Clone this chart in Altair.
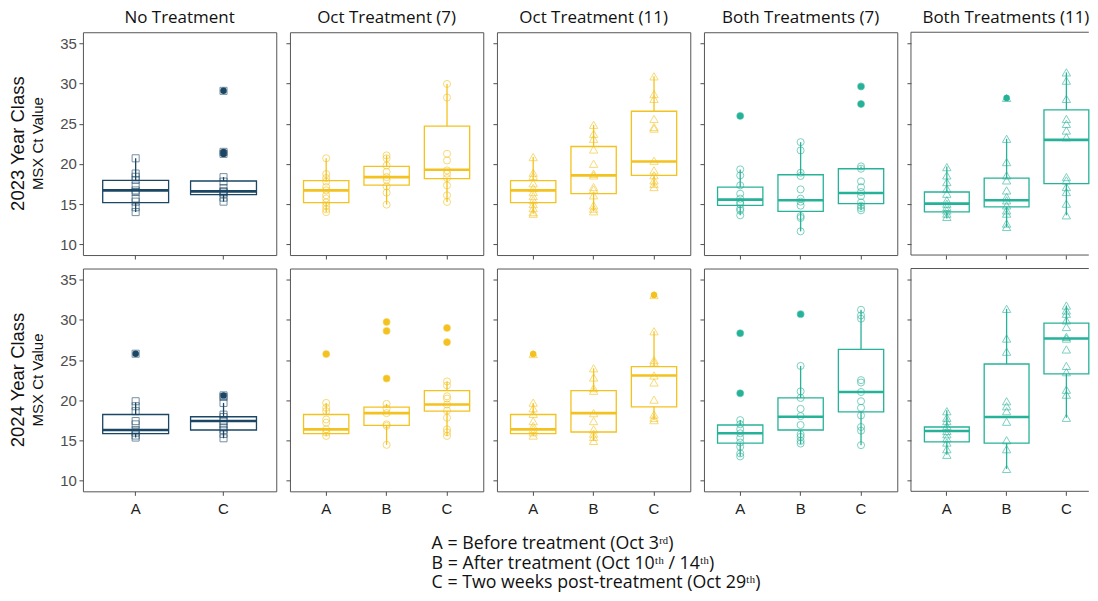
import altair as alt
import pandas as pd

# ---------------- data ----------------
PANELS = ["No Treatment", "Oct Treatment (7)", "Oct Treatment (11)",
          "Both Treatments (7)", "Both Treatments (11)"]
PANEL_GROUPS = [["A", "C"], ["A", "B", "C"], ["A", "B", "C"], ["A", "B", "C"], ["A", "B", "C"]]
PANEL_COLORS = ["#1b4664", "#f4c21e", "#f4c21e", "#26b298", "#26b298"]
PANEL_SHAPES = ["square", "circle", "triangle-up", "circle", "triangle-up"]
ROW_LABELS = ["2023 Year Class", "2024 Year Class"]
Y_LABEL = "MSX Ct Value"
Y_TICKS = [10, 15, 20, 25, 30, 35]
FOOTNOTE = ["A = Before treatment (Oct 3\u02b3\u1d48)",
            "B = After treatment (Oct 10\u1d57\u02b0 / 14\u1d57\u02b0)",
            "C = Two weeks post-treatment (Oct 29\u1d57\u02b0)"]

# box statistics (panel index, group) in this order
BOX_PANEL = [0, 0, 1, 1, 1, 2, 2, 2, 3, 3, 3, 4, 4, 4]
BOX_GROUP = ["A", "C", "A", "B", "C", "A", "B", "C", "A", "B", "C", "A", "B", "C"]

Q1_2023 = [15.18, 16.17, 15.18, 17.37, 18.16, 15.18, 16.29, 18.57, 14.84, 14.10, 15.05, 14.02, 14.64, 17.54]
MED_2023 = [16.70, 16.58, 16.71, 18.36, 19.28, 16.71, 18.57, 20.31, 15.55, 15.47, 16.38, 15.05, 15.47, 23.00]
Q3_2023 = [17.95, 17.87, 17.91, 19.69, 24.70, 17.91, 22.17, 26.56, 17.12, 18.65, 19.40, 16.50, 18.24, 26.73]
LO_2023 = [14.00, 15.30, 14.00, 14.93, 15.26, 13.80, 14.10, 17.12, 13.60, 11.60, 14.22, 13.19, 12.15, 13.60]
HI_2023 = [20.70, 18.36, 20.72, 21.06, 29.96, 20.85, 24.87, 30.91, 19.32, 22.71, 19.69, 19.69, 23.13, 31.40]

Q1_2024 = [15.84, 16.29, 15.84, 16.87, 18.63, 15.84, 16.04, 19.17, 14.65, 16.29, 18.55, 14.81, 14.65, 23.28]
MED_2024 = [16.29, 17.40, 16.37, 18.39, 19.46, 16.37, 18.39, 23.08, 15.88, 17.94, 21.02, 16.17, 17.90, 27.68]
Q3_2024 = [18.22, 17.94, 18.22, 19.13, 21.18, 18.22, 21.18, 24.19, 16.91, 20.28, 26.32, 16.66, 24.51, 29.61]
LO_2024 = [15.35, 15.26, 15.55, 14.44, 15.55, 15.55, 14.93, 17.52, 13.00, 14.52, 14.40, 13.20, 11.44, 17.81]
HI_2024 = [19.70, 19.66, 19.66, 19.54, 22.34, 19.66, 23.98, 28.59, 17.52, 24.27, 31.26, 18.76, 31.38, 31.79]

# individual observations, 2023 year class
P23_NT_A = [20.7, 18.8, 18.4, 18.0, 17.3, 16.7, 16.5, 15.7, 15.3, 14.6, 14.0]
P23_NT_C = [29.1, 21.5, 21.25, 18.35, 17.8, 17.0, 16.6, 16.5, 16.3, 15.8, 15.3]
P23_O7_A = [20.7, 18.74, 18.24, 17.8, 17.12, 16.71, 16.09, 15.7, 15.2, 14.76, 14.35, 14.0]
P23_O7_B = [21.06, 20.7, 19.8, 19.0, 18.36, 18.0, 17.2, 16.42, 14.93]
P23_O7_C = [29.96, 28.26, 21.26, 20.43, 19.19, 18.78, 18.24, 17.33, 16.09, 15.26]
P23_O11_A = [20.85, 18.9, 18.5, 17.6, 17.0, 16.5, 16.0, 15.5, 15.0, 14.5, 14.0, 13.8]
P23_O11_B = [24.87, 23.75, 23.13, 21.8, 20.02, 18.78, 18.57, 17.12, 16.83, 16.09, 14.84, 14.43, 14.1]
P23_O11_C = [30.91, 28.7, 28.1, 25.6, 24.6, 24.4, 20.4, 19.2, 18.6, 17.95, 17.5, 17.12]
P23_B7_A = [25.98, 19.32, 18.57, 17.33, 16.29, 15.67, 15.26, 15.0, 14.43, 14.2, 13.6]
P23_B7_B = [22.71, 21.68, 18.9, 18.5, 16.83, 15.67, 15.3, 14.8, 13.5, 13.27, 11.6]
P23_B7_C = [29.65, 27.46, 19.69, 19.4, 17.83, 17.1, 16.5, 16.0, 15.2, 14.8, 14.5, 14.22]
P23_B11_A = [19.6, 18.57, 17.74, 16.91, 16.29, 15.47, 15.05, 14.64, 14.22, 13.81, 13.4]
P23_B11_B = [28.22, 23.13, 20.23, 18.57, 17.95, 16.7, 15.88, 15.47, 14.84, 14.22, 13.81, 12.57, 12.15]
P23_B11_C = [31.4, 30.37, 28.1, 25.6, 24.99, 24.16, 23.33, 18.36, 17.95, 17.12, 16.5, 15.05, 13.6]

# individual observations, 2024 year class
P24_NT_A = [25.79, 19.87, 19.25, 18.63, 17.4, 16.99, 16.29, 15.96, 15.6, 15.35]
P24_NT_C = [20.6, 20.4, 19.66, 18.2, 17.9, 17.4, 17.0, 16.6, 16.3, 15.8, 15.26]
P24_O7_A = [25.75, 19.66, 19.05, 18.63, 17.6, 17.2, 16.37, 15.96, 15.55]
P24_O7_B = [29.74, 28.63, 22.7, 19.54, 18.96, 18.39, 16.99, 16.8, 14.44]
P24_O7_C = [29.0, 27.23, 22.34, 21.84, 20.49, 20.2, 19.46, 18.7, 17.81, 16.37, 16.0, 15.55]
P24_O11_A = [25.75, 19.7, 19.0, 18.3, 17.4, 16.8, 16.4, 16.0, 15.6]
P24_O11_B = [23.98, 22.83, 21.51, 21.18, 18.39, 17.4, 16.37, 15.84, 15.43, 14.93]
P24_O11_C = [33.1, 28.59, 25.0, 24.72, 23.08, 22.21, 20.07, 18.22, 17.81, 17.52]
P24_B7_A = [28.34, 20.86, 17.52, 17.0, 16.4, 15.88, 15.3, 14.73, 14.19, 13.37, 13.0]
P24_B7_B = [30.72, 24.27, 21.1, 20.28, 18.92, 18.02, 16.91, 15.76, 15.43, 14.93, 14.6]
P24_B7_C = [31.26, 30.56, 30.15, 22.5, 22.2, 21.02, 19.87, 19.05, 18.1, 16.66, 16.2, 14.4]
P24_B11_A = [18.63, 17.81, 17.4, 16.78, 16.17, 15.76, 15.26, 14.73, 13.9, 13.2]
P24_B11_B = [31.38, 27.68, 26.04, 19.87, 19.25, 18.63, 17.32, 15.02, 13.9, 11.44]
P24_B11_C = [31.79, 31.18, 30.77, 29.94, 29.12, 27.89, 27.68, 26.32, 24.27, 23.49, 21.31, 20.69, 17.81]

# outliers (panel index, group, value)
OUT_2023 = [(0, "C", 29.1), (0, "C", 21.5), (0, "C", 21.25), (3, "A", 25.98),
            (3, "C", 29.65), (3, "C", 27.46), (4, "B", 28.22)]
OUT_2024 = [(0, "A", 25.79), (0, "C", 20.6), (1, "A", 25.75), (1, "B", 29.74), (1, "B", 28.63),
            (1, "B", 22.7), (1, "C", 29.0), (1, "C", 27.23), (2, "A", 25.75), (2, "C", 33.1),
            (3, "A", 28.34), (3, "A", 20.86), (3, "B", 30.72)]

POINTS = [
    [[P23_NT_A, P23_NT_C], [P23_O7_A, P23_O7_B, P23_O7_C], [P23_O11_A, P23_O11_B, P23_O11_C],
     [P23_B7_A, P23_B7_B, P23_B7_C], [P23_B11_A, P23_B11_B, P23_B11_C]],
    [[P24_NT_A, P24_NT_C], [P24_O7_A, P24_O7_B, P24_O7_C], [P24_O11_A, P24_O11_B, P24_O11_C],
     [P24_B7_A, P24_B7_B, P24_B7_C], [P24_B11_A, P24_B11_B, P24_B11_C]],
]
BOXES = [(Q1_2023, MED_2023, Q3_2023, LO_2023, HI_2023),
         (Q1_2024, MED_2024, Q3_2024, LO_2024, HI_2024)]
OUTLIERS = [OUT_2023, OUT_2024]

# ---------------- layout ----------------
PWS = [193.5, 193.5, 193.5, 193.5, 178]   # last panel is cut at the page edge
PH = 223
HSP = 13.2
VSP = 13.5
Y_DOMAIN = [8.65, 36.4]
TXT_FONT = "Open Sans"
AX_FONT = "Liberation Sans"
FRAME = "#555555"


def make_panel(row, p):
    groups = PANEL_GROUPS[p]
    n = len(groups)
    PW = PWS[p]
    color = PANEL_COLORS[p]
    last = p == 4
    if last:
        po = 0.1125
        step = PW / (n - 0.25 + 2 * po)
        xscale = alt.Scale(domain=groups, paddingInner=0.25, paddingOuter=po, align=1)
    else:
        step = PW / (n + 0.2)
        xscale = alt.Scale(domain=groups, paddingInner=0.25, paddingOuter=0.225)
    bw = step * 0.75
    q1, med, q3, lo, hi = BOXES[row]
    idx = [i for i, bp in enumerate(BOX_PANEL) if bp == p]
    box_df = pd.DataFrame({
        "g": [BOX_GROUP[i] for i in idx],
        "q1": [q1[i] for i in idx], "med": [med[i] for i in idx], "q3": [q3[i] for i in idx],
        "lo": [lo[i] for i in idx], "hi": [hi[i] for i in idx],
    })
    gs, vs = [], []
    for g, vals in zip(groups, POINTS[row][p]):
        gs += [g] * len(vals)
        vs += vals
    pts_df = pd.DataFrame({"g": gs, "v": vs})
    outs = [(g, v) for (pp, g, v) in OUTLIERS[row] if pp == p]

    bottom = row == 1
    xaxis = alt.Axis(title=None, labels=bottom, labelAngle=0, domain=False, grid=False,
                     ticks=True, tickSize=4, tickColor="#4d4d4d", labelFont=AX_FONT,
                     labelFontSize=15, labelColor="#222222", labelPadding=6)
    yaxis = alt.Axis(title=None, values=Y_TICKS, labels=(p == 0), domain=False, grid=False,
                     ticks=True, tickSize=4, tickColor="#4d4d4d", labelFont=AX_FONT,
                     labelFontSize=15, labelColor="#4d4d4d", labelPadding=2.5)
    yscale = alt.Scale(domain=Y_DOMAIN, nice=False, zero=False)

    def X():
        return alt.X("g:N", scale=xscale, axis=xaxis)

    def Y(field):
        return alt.Y(field, type="quantitative", scale=yscale, axis=yaxis)

    whisk = alt.Chart(box_df).mark_rule(color=color, strokeWidth=1.3).encode(
        x=X(), y=Y("lo"), y2="hi")
    box = alt.Chart(box_df).mark_bar(fill="white", stroke=color, strokeWidth=1.3).encode(
        x=X(), y=Y("q1"), y2="q3")
    medl = alt.Chart(box_df).mark_tick(color=color, thickness=2.6, size=bw, opacity=1).encode(
        x=X(), y=Y("med"))
    layers = [whisk, box, medl]
    if outs:
        out_df = pd.DataFrame({"g": [o[0] for o in outs], "v": [o[1] for o in outs]})
        layers.append(alt.Chart(out_df).mark_point(filled=True, shape="circle", size=42,
                                                   color=color, opacity=1).encode(x=X(), y=Y("v")))
    psize = 70 if PANEL_SHAPES[p] == "triangle-up" else 50
    layers.append(alt.Chart(pts_df).mark_point(filled=False, shape=PANEL_SHAPES[p], size=psize,
                                               color=color, opacity=0.6, strokeWidth=1).encode(
        x=X(), y=Y("v")))
    if p == 0:
        lab1 = alt.Chart(pd.DataFrame({"t": [ROW_LABELS[row]]})).mark_text(
            angle=270, font=AX_FONT, fontSize=18.5, color="#111111", align="center",
            baseline="middle").encode(x=alt.value(-65), y=alt.value(PH / 2), text="t:N")
        lab2 = alt.Chart(pd.DataFrame({"t": [Y_LABEL]})).mark_text(
            angle=270, font=AX_FONT, fontSize=15, color="#111111", align="center",
            baseline="middle").encode(x=alt.value(-45), y=alt.value(PH / 2), text="t:N")
        layers += [lab1, lab2]
    if last:
        # frame open on the right, where the panel runs off the page
        fr = pd.DataFrame({"k": [0]})
        layers += [
            alt.Chart(fr).mark_rule(color=FRAME, strokeWidth=1).encode(
                x=alt.value(0), x2=alt.value(PW), y=alt.value(0)),
            alt.Chart(fr).mark_rule(color=FRAME, strokeWidth=1).encode(
                x=alt.value(0), x2=alt.value(PW), y=alt.value(PH)),
            alt.Chart(fr).mark_rule(color=FRAME, strokeWidth=1).encode(
                x=alt.value(0), y=alt.value(0), y2=alt.value(PH)),
        ]
    ch = alt.layer(*layers).properties(width=PW, height=PH)
    if last:
        ch = ch.properties(view=alt.ViewBackground(stroke="transparent"))
    if row == 0:
        ch = ch.properties(title=alt.TitleParams(PANELS[p], font=TXT_FONT, fontSize=17,
                                                 fontWeight="normal", color="#111111",
                                                 anchor="middle", offset=5,
                                                 dx=(6 if last else 0)))
    return ch


cells = [make_panel(r, p) for r in range(2) for p in range(5)]

foot_df = pd.DataFrame({"i": list(range(len(FOOTNOTE))), "t": FOOTNOTE})
foot = alt.Chart(foot_df).mark_text(align="left", baseline="alphabetic", font=TXT_FONT,
                                    fontSize=17.8, color="#111111").encode(
    x=alt.value(349),
    y=alt.Y("i:Q", scale=alt.Scale(domain=[0, 2], range=[44, 83.5]), axis=None),
    text="t:N",
).properties(width=PWS[0], height=86, view=alt.ViewBackground(stroke="transparent"))
cells.append(foot)

chart = alt.concat(*cells, columns=5, spacing={"row": VSP, "column": HSP},
                   bounds="flush").properties(
    padding={"left": 0, "top": 0, "right": 0, "bottom": 0}
).configure_view(stroke=FRAME, strokeWidth=1)

chart.save("out.html", embed_options={"renderer": "svg", "actions": False})
